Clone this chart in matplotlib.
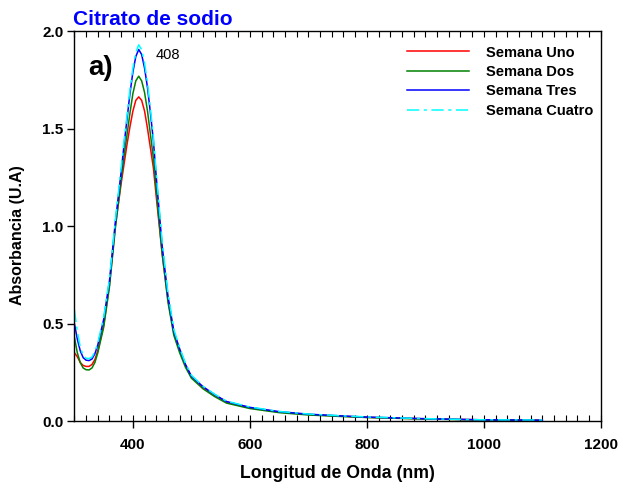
import matplotlib
matplotlib.use("Agg")
import matplotlib.pyplot as plt
from matplotlib.ticker import MultipleLocator, FormatStrFormatter

plt.rcParams["font.family"] = ["Liberation Sans", "DejaVu Sans"]

# wavelength grid (nm)
wl = [300, 305, 310, 315, 320, 325, 330, 335, 340, 350, 360, 370, 380, 385, 390, 395,
      400, 405, 410, 415, 420, 425, 430, 435, 440, 450, 460, 470, 480, 490, 500, 520,
      540, 560, 580, 600, 650, 700, 750, 800, 900, 1000, 1100]

semana_uno = [0.35, 0.33, 0.30, 0.285, 0.28, 0.28, 0.29, 0.315, 0.36, 0.49, 0.70, 1.00, 1.22, 1.32, 1.42, 1.51,
              1.59, 1.645, 1.663, 1.645, 1.59, 1.50, 1.40, 1.30, 1.15, 0.86, 0.62, 0.45, 0.36, 0.285, 0.228, 0.172,
              0.132, 0.098, 0.083, 0.068, 0.046, 0.034, 0.026, 0.019, 0.011, 0.006, 0.004]
semana_dos = [0.43, 0.35, 0.30, 0.272, 0.263, 0.262, 0.272, 0.30, 0.35, 0.48, 0.69, 0.99, 1.24, 1.36, 1.47, 1.58,
              1.68, 1.745, 1.769, 1.745, 1.685, 1.59, 1.47, 1.35, 1.18, 0.86, 0.61, 0.44, 0.35, 0.275, 0.22, 0.165,
              0.125, 0.092, 0.078, 0.064, 0.043, 0.031, 0.024, 0.018, 0.010, 0.005, 0.003]
semana_tres = [0.50, 0.42, 0.36, 0.325, 0.312, 0.31, 0.318, 0.345, 0.39, 0.52, 0.72, 1.02, 1.28, 1.42, 1.55, 1.68,
               1.79, 1.87, 1.906, 1.88, 1.81, 1.71, 1.58, 1.44, 1.25, 0.90, 0.64, 0.46, 0.37, 0.29, 0.23, 0.176,
               0.135, 0.10, 0.085, 0.07, 0.048, 0.035, 0.027, 0.020, 0.012, 0.006, 0.004]
semana_cuatro = [0.57, 0.46, 0.38, 0.335, 0.322, 0.32, 0.328, 0.355, 0.40, 0.53, 0.73, 1.03, 1.30, 1.44, 1.57, 1.70,
                 1.81, 1.89, 1.93, 1.905, 1.835, 1.735, 1.60, 1.46, 1.27, 0.92, 0.655, 0.47, 0.375, 0.295, 0.235, 0.178,
                 0.137, 0.102, 0.087, 0.072, 0.049, 0.036, 0.028, 0.021, 0.012, 0.006, 0.005]

labels = ["Semana Uno", "Semana Dos", "Semana Tres", "Semana Cuatro"]
colors = ["#ff0000", "#008000", "#0000ff", "#00ffff"]
styles = ["-", "-", "-", (0, (8, 3, 2, 3))]

fig = plt.figure(figsize=(6.2, 4.87), dpi=100)
ax = fig.add_axes([0.120, 0.1355, 0.849, 0.8005])

for ys, lab, c, ls in zip([semana_uno, semana_dos, semana_tres, semana_cuatro], labels, colors, styles):
    ax.plot(wl, ys, color=c, ls=ls, lw=1.1, label=lab)

ax.set_xlim(300, 1200)
ax.set_ylim(0, 2.0)
ax.xaxis.set_major_locator(MultipleLocator(200))
ax.xaxis.set_minor_locator(MultipleLocator(20))
ax.xaxis.remove_overlapping_locs = False
ax.yaxis.set_major_locator(MultipleLocator(0.5))
ax.yaxis.set_major_formatter(FormatStrFormatter("%.1f"))
ax.set_xticks([400, 600, 800, 1000, 1200])
ax.tick_params(axis="x", which="major", direction="out", length=5, width=1, top=False,
               labelsize=11, pad=7)
ax.tick_params(axis="x", which="minor", direction="in", length=4, width=0.8, top=True, bottom=True)
ax.tick_params(axis="y", which="major", direction="out", length=5, width=1, right=False,
               labelsize=11, pad=3)
for lbl in ax.get_xticklabels() + ax.get_yticklabels():
    lbl.set_fontweight("bold")
for sp in ax.spines.values():
    sp.set_linewidth(1.0)

ax.set_xlabel("Longitud de Onda (nm)", fontsize=12.7, fontweight="bold")
ax.xaxis.set_label_coords(0.5, -0.112)
ax.set_ylabel("Absorbancia (U.A)", fontsize=11.5, fontweight="bold")
ax.yaxis.set_label_coords(-0.094, 0.477)
fig.text(0.118, 1 - 25 / 487, "Citrato de sodio", color="#0000ff", fontsize=15, fontweight="bold",
         ha="left", va="baseline")

ax.text(0.026, 0.905, "a)", transform=ax.transAxes, fontsize=20, fontweight="bold", va="center")
ax.text(439, 1.88, "408", fontsize=10.5, va="center")

ax.legend(loc="upper left", bbox_to_anchor=(0.620, 0.978), borderaxespad=0, frameon=False,
          handlelength=4.3, handletextpad=1.16, labelspacing=0.37,
          prop={"weight": "bold", "size": 10.5})

fig.savefig("out.png", dpi=100, facecolor="white")
